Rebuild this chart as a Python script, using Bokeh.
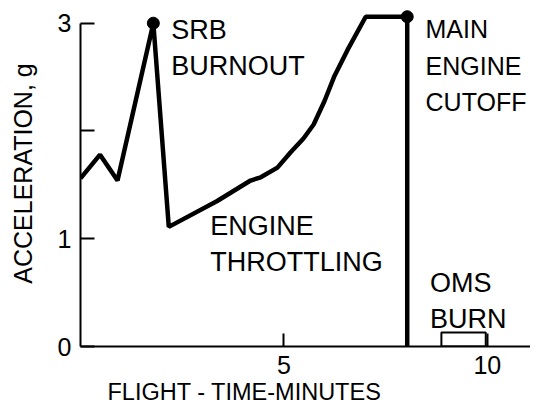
from bokeh.plotting import figure
from bokeh.models import FixedTicker, Title, Range1d
from bokeh.core.properties import value
from bokeh.embed import file_html
from bokeh.resources import INLINE

# Flight time (minutes) and acceleration (g)
time_min = [0.0, 0.48, 0.91, 1.79, 2.17, 3.36, 4.18, 4.43, 4.84, 5.16, 5.48,
            5.73, 6.0, 6.23, 6.56, 7.01, 8.03, 8.03]
accel_g = [1.56, 1.78, 1.54, 3.0, 1.11, 1.35, 1.54, 1.57, 1.66, 1.80, 1.93,
           2.06, 2.28, 2.50, 2.75, 3.06, 3.06, 0.0]

# Events marked with dots
event_t = [1.79, 8.03]
event_g = [3.0, 3.06]

# OMS burn interval
oms_start, oms_end, oms_g = 8.87, 9.96, 0.13

# Annotation texts and their anchor points (data units)
notes_a_text = ["SRB\nBURNOUT", "ENGINE\nTHROTTLING", "OMS\nBURN"]
notes_a_t = [2.23, 3.19, 8.59]
notes_a_g = [3.08, 1.254, 0.727]
notes_b_text = ["MAIN\nENGINE\nCUTOFF"]
notes_b_t = [8.48]
notes_b_g = [3.08]

x_ticks = [5, 10]
y_ticks = [0, 1, 2, 3]
x_title = "FLIGHT - TIME-MINUTES"
y_title = "ACCELERATION, g"

FONT = "Liberation Sans"

p = figure(width=530, height=404, output_backend="svg", toolbar_location=None,
           x_range=Range1d(0, 11.06), y_range=Range1d(0, 3.2106),
           min_border_left=80, min_border_right=0, min_border_top=0,
           min_border_bottom=58, outline_line_color=None,
           background_fill_color="white", border_fill_color="white")
p.grid.visible = False

# main trace
p.line(time_min, accel_g, line_color="black", line_width=4.5)
p.scatter(event_t, event_g, size=12, fill_color="black", line_color="black")
p.quad(left=[oms_start], right=[oms_end], bottom=[0], top=[oms_g],
       fill_color=None, line_color="black", line_width=2)

p.text(x=notes_a_t, y=notes_a_g, text=notes_a_text, text_font=value(FONT),
       text_font_size="27px", text_baseline="top", text_align="left",
       text_line_height=1.2, text_color="black")
p.text(x=notes_b_t, y=notes_b_g, text=notes_b_text, text_font=value(FONT),
       text_font_size="25px", text_baseline="top", text_align="left",
       text_line_height=1.32, text_color="black")

# y axis
ya = p.yaxis[0]
ya.ticker = FixedTicker(ticks=y_ticks)
ya.major_label_overrides = {2: ""}
ya.bounds = (0, 3)
ya.major_tick_in = 14
ya.major_tick_out = 0
ya.minor_tick_line_color = None
ya.axis_line_width = 2
ya.major_tick_line_width = 2
ya.major_label_text_font = FONT
ya.major_label_text_font_size = "25px"
ya.major_label_text_color = "black"
ya.major_label_standoff = 9
ya.axis_label = y_title
ya.axis_label_text_font = FONT
ya.axis_label_text_font_style = "normal"
ya.axis_label_text_font_size = "25px"
ya.axis_label_text_color = "black"
ya.axis_label_standoff = 18

# x axis
xa = p.xaxis[0]
xa.ticker = FixedTicker(ticks=x_ticks)
xa.major_tick_in = 13
xa.major_tick_out = 0
xa.minor_tick_line_color = None
xa.axis_line_width = 2
xa.major_tick_line_width = 2
xa.major_label_text_font = FONT
xa.major_label_text_font_size = "25px"
xa.major_label_text_color = "black"
xa.major_label_standoff = 9

xt = Title(text=x_title, align="left", offset=27, vertical_align="bottom",
           text_font=FONT, text_font_size="23.5px", text_font_style="normal",
           text_color="black", standoff=0)
p.add_layout(xt, "below")

open("out.html", "w").write(file_html(p, INLINE))
